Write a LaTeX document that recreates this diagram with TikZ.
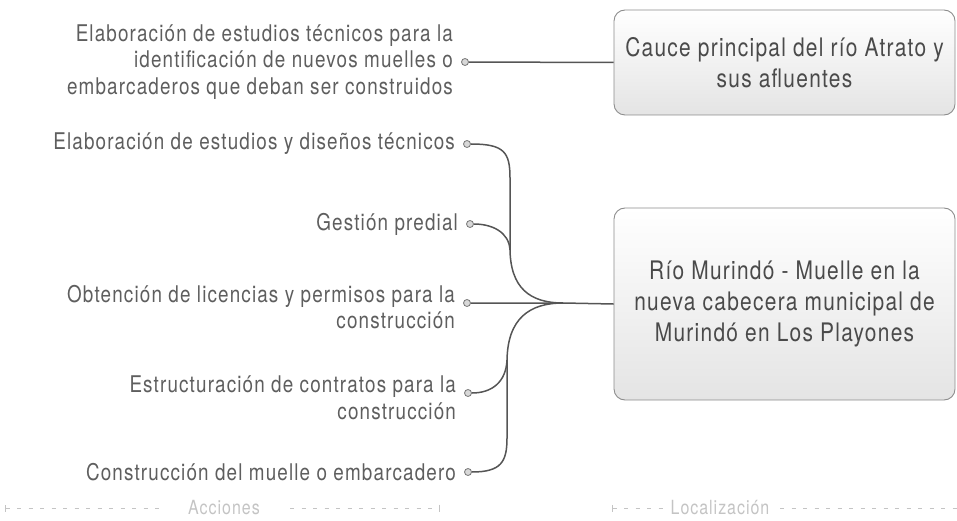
\documentclass[tikz,border=0pt]{standalone}
\usepackage{fontspec}
\setmainfont{TeX Gyre Heros}[FakeStretch=0.82, LetterSpace=5]
\usetikzlibrary{positioning,arrows.meta}
\definecolor{wire}{HTML}{555555}
\definecolor{leafgray}{HTML}{5E5E5E}
\definecolor{boxtext}{HTML}{4A4A4A}
\definecolor{boxline}{HTML}{8C8C8C}
\definecolor{boxfill}{HTML}{E4E4E4}
\definecolor{knobfill}{HTML}{D8D8D8}
\definecolor{footgray}{HTML}{C4C4C4}
\tikzset{
  place/.style={draw=boxline, line width=0.9pt, rounded corners=11pt,
    top color=white, bottom color=boxfill, text=boxtext, align=center,
    minimum width=341pt, font=\fontsize{25.5}{31}\selectfont},
  leaf/.style={text=leafgray, align=right, inner sep=0pt,
    font=\fontsize{23}{26.5}\selectfont},
  knob/.style={circle, draw=wire!80, fill=knobfill, line width=0.8pt,
    inner sep=0pt, minimum size=7pt},
  branch/.style={draw=wire, line width=1.5pt},
  band/.style={draw=footgray, line width=1pt, dash pattern=on 4pt off 7.5pt},
  bandtext/.style={text=footgray, inner sep=0pt, font=\fontsize{19.5}{22}\selectfont}
}
\begin{document}
\begin{tikzpicture}[x=1pt, y=-1pt]
  \useasboundingbox (0,0) rectangle (957,521);
  % destinos
  \node[place, minimum height=105pt] (cauce) at (784.5,62.5)
    {Cauce principal del río Atrato y\\sus afluentes};
  \node[place, minimum height=192pt] (murindo) at (784.5,304)
    {Río Murindó - Muelle en la\\nueva cabecera municipal de\\Murindó en Los Playones};
  % puntos de las acciones
  \node[knob] (k1) at (465,62) {};
  \node[knob] (k2) at (467,144) {};
  \node[knob] (k3) at (470,224) {};
  \node[knob] (k4) at (467,303) {};
  \node[knob] (k5) at (468,393) {};
  \node[knob] (k6) at (468,472) {};
  \coordinate (hub) at (563,303);
  \foreach \k/\t/\dy in {
      k1/{Elaboración de estudios técnicos para la\\identificación de nuevos muelles o\\embarcaderos que deban ser construidos}/0,
      k2/{Elaboración de estudios y diseños técnicos}/0,
      k3/{Gestión predial}/0,
      k4/{Obtención de licencias y permisos para la\\construcción}/4,
      k5/{Estructuración de contratos para la\\construcción}/5,
      k6/{Construcción del muelle o embarcadero}/0}
    \node[leaf, left=8pt of \k, yshift=-\dy pt] (t\k) {\t};
  % conectores
  \draw[branch] (k1) -- (cauce.west);
  \draw[branch] (k4) -- (hub) -- (murindo.west);
  \draw[branch] (k2.east) .. controls (504,144) and (510,152) .. (510,178)
    -- (510,248) .. controls (510,288) and (530,303) .. (hub);
  \draw[branch] (k3.east) .. controls (492,224) and (509,232) .. (510,250);
  \draw[branch] (k6.east) .. controls (501,472) and (507,462) .. (507,438)
    -- (507,362) .. controls (507,318) and (530,303) .. (hub);
  \draw[branch] (k5.east) .. controls (492,393) and (506,382) .. (507,360);
  % pie
  \coordinate (a0) at (5,508); \coordinate (a1) at (160,508);
  \coordinate (a2) at (290,508); \coordinate (a3) at (440,508);
  \coordinate (l0) at (612,508); \coordinate (l1) at (664,508);
  \coordinate (l2) at (780,508); \coordinate (l3) at (957,508);
  \draw[band, {Bar[width=7pt,line width=0.8pt]}-] (a0) -- (a1);
  \draw[band, -{Bar[width=7pt,line width=0.8pt]}] (a2) -- (a3);
  \draw[band, {Bar[width=7pt,line width=0.8pt]}-] (l0) -- (l1);
  \draw[band] (l2) -- (l3);
  \node[bandtext] (acciones) at (224,508) {Acciones};
  \node[bandtext] (localiz) at (720,508) {Localización};
\end{tikzpicture}
\end{document}
